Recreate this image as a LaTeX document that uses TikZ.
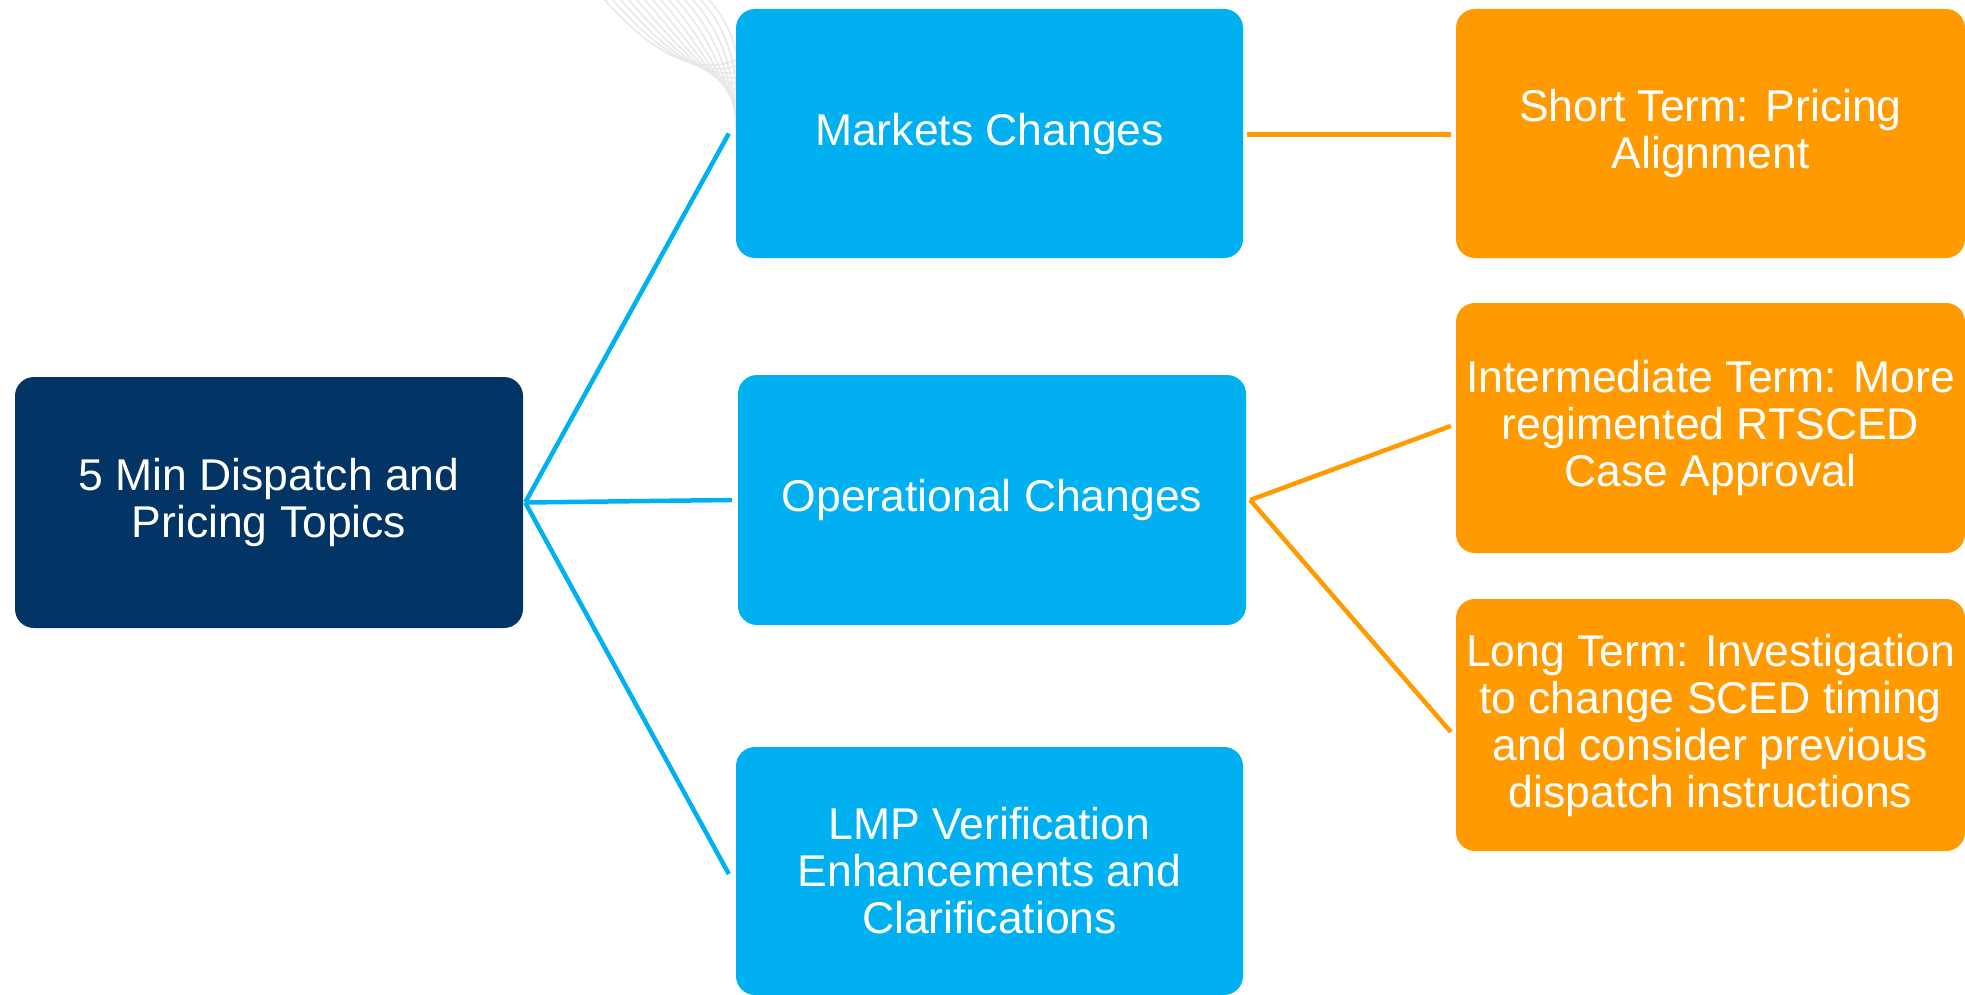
\documentclass[tikz,border=0pt]{standalone}
\usepackage{fontspec}
\setmainfont{Liberation Sans}
\definecolor{navy}{HTML}{033466}
\definecolor{skyb}{HTML}{00B0F0}
\definecolor{orng}{HTML}{FF9A00}
\begin{document}
\begin{tikzpicture}[x=1pt,y=-1pt,
  box/.style={rectangle, rounded corners=19pt, inner sep=0pt, text=white, align=center,
    font=\fontsize{44.5}{47}\selectfont},
  rootbox/.style={box, fill=navy},
  midbox/.style={box, fill=skyb},
  leafbox/.style={box, fill=orng},
  blueline/.style={draw=skyb, line width=4.5pt},
  orangeline/.style={draw=orng, line width=4.5pt},
  faint/.style={draw=black!9, line width=1.6pt}]
\useasboundingbox (0,0) rectangle (1965,995);
% faint background streaks
\foreach \i in {0,...,13} {
  \draw[faint] (605+8*\i,0) .. controls (640+8*\i,40) and (690+4*\i,80) .. (736,{60+6*\i});
}
\node[rootbox, minimum width=508pt, minimum height=251pt] (root) at (269,502.5) {5 Min Dispatch and\\Pricing Topics};
\node[midbox, minimum width=507pt, minimum height=249pt] (mkt) at (989.5,133.5) {Markets Changes};
\node[midbox, minimum width=508pt, minimum height=250pt] (ops) at (992,500) {Operational Changes};
\node[midbox, minimum width=507pt, minimum height=248pt] (lmp) at (989.5,871) {LMP Verification\\Enhancements and\\Clarifications};
\node[leafbox, minimum width=509pt, minimum height=249pt] (short) at (1710.5,133.5) {Short Term: Pricing\\Alignment};
\node[leafbox, minimum width=509pt, minimum height=250pt] (inter) at (1710.5,428) {Intermediate Term: More\\regimented RTSCED\\Case Approval};
\node[leafbox, minimum width=509pt, minimum height=252pt] (long) at (1710.5,725) {Long Term: Investigation\\to change SCED timing\\and consider previous\\dispatch instructions};
\coordinate (rj) at ([xshift=2pt]root.east);
\draw[blueline] (rj) -- ([xshift=-7pt]mkt.west);
\draw[blueline] (rj) -- ([xshift=-6pt]ops.west);
\draw[blueline] (rj) -- ([xshift=-7pt,yshift=-3pt]lmp.west);
\draw[orangeline] ([xshift=4pt,yshift=-1pt]mkt.east) -- ([xshift=-5pt,yshift=-1pt]short.west);
\coordinate (oj) at ([xshift=4pt]ops.east);
\draw[orangeline] (oj) -- ([xshift=-5pt,yshift=2pt]inter.west);
\draw[orangeline] (oj) -- ([xshift=-5pt,yshift=-7pt]long.west);
\end{tikzpicture}
\end{document}
